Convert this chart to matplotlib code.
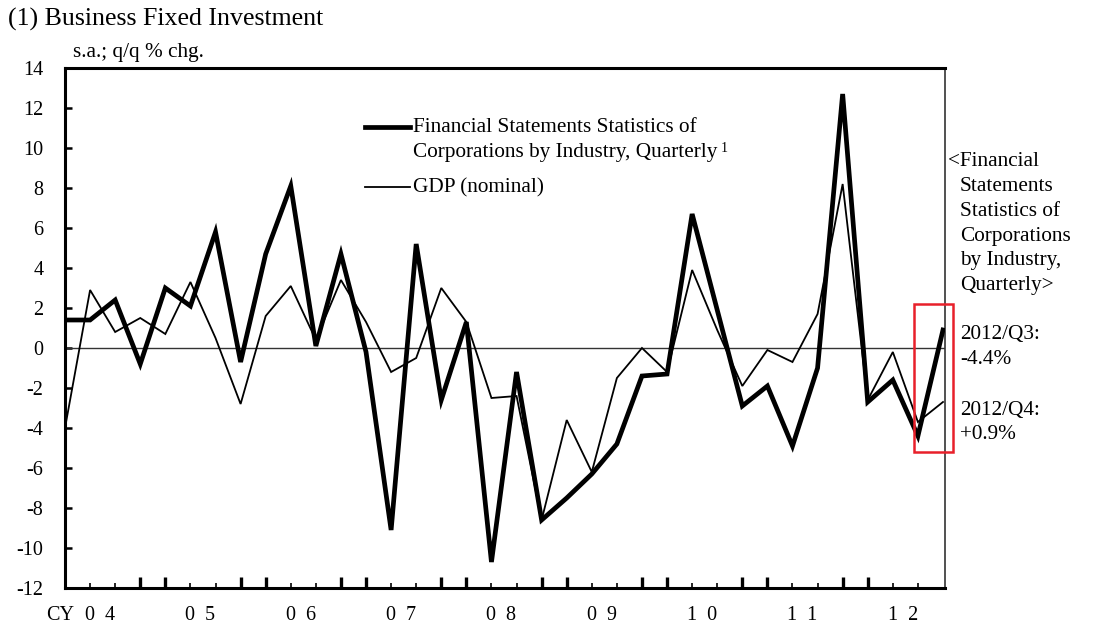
import matplotlib
matplotlib.use("Agg")
import matplotlib.pyplot as plt
from matplotlib.lines import Line2D
from matplotlib.patches import Rectangle

plt.rcParams['font.family'] = ['Liberation Serif', 'DejaVu Serif']

# ---- data ----
quarters = list(range(36))  # CY2004 Q1 ... CY2012 Q4
fssc = [1.4, 1.4, 2.4, -0.8, 3.0, 2.1, 5.8, -0.7, 4.7, 8.1, 0.1, 4.7,
        -0.2, -9.1, 5.2, -2.6, 1.3, -10.7, -1.2, -8.6, -7.5, -6.3, -4.8, -1.4,
        -1.3, 6.7, 1.9, -2.9, -1.9, -4.9, -1.0, 12.7, -2.7, -1.6, -4.4, 0.9]
gdp = [-4.0, 2.9, 0.8, 1.5, 0.7, 3.3, 0.5, -2.8, 1.6, 3.1, 0.4, 3.4,
       1.3, -1.2, -0.5, 3.0, 1.3, -2.5, -2.4, -8.6, -3.6, -6.2, -1.5, 0.0,
       -1.2, 3.9, 0.9, -1.9, -0.1, -0.7, 1.7, 8.2, -2.6, -0.2, -3.7, -2.7]
year_labels = ["0  4", "0  5", "0  6", "0  7", "0  8", "0  9", "1  0", "1  1", "1  2"]
y_ticks = list(range(-12, 15, 2))
fssc_label_1 = "Financial Statements Statistics of"
fssc_label_2 = "Corporations by Industry, Quarterly"
gdp_label = "GDP (nominal)"
side_text = ["<Financial", "Statements", "Statistics of", "Corporations",
             "by Industry,", "Quarterly>"]
side_values = ["2012/Q3:", "-4.4%", "2012/Q4:", "+0.9%"]

FS = 15.3
W, H = 1095, 639
fig = plt.figure(figsize=(W / 100, H / 100), dpi=100)
L, R, T, B = 65, 945, 68, 588
ax = fig.add_axes([L / W, 1 - B / H, (R - L) / W, (B - T) / H])

ax.plot(quarters, gdp, color='black', lw=1.3, solid_joinstyle='miter', zorder=3)
ax.plot(quarters, fssc, color='black', lw=3.4, solid_joinstyle='miter', zorder=4)
ax.axhline(0, color='#333333', lw=1.0, zorder=2)

ax.set_xlim(0, 35.08)
ax.set_ylim(-12, 14)

# spines
for s in ['left', 'bottom', 'top']:
    ax.spines[s].set_linewidth(2.2)
ax.spines['right'].set_linewidth(1.2)
ax.spines['right'].set_color('#333333')

# y ticks
ax.set_yticks(y_ticks)
ax.set_yticklabels([str(v) for v in y_ticks])
ax.tick_params(axis='y', direction='in', length=5, width=1.8, labelsize=14.5, pad=15.5)

# x ticks
major = [i for i in quarters if i % 4 in (0, 3) and 0 < i < 35]
minor = [i for i in quarters if i not in major and 0 < i < 35]
ax.set_xticks(major)
ax.set_xticks(minor, minor=True)
ax.set_xticklabels([])
ax.tick_params(axis='x', which='major', direction='in', length=8, width=2.4)
ax.tick_params(axis='x', which='minor', direction='in', length=3.6, width=1.2)

xt = ax.get_xaxis_transform()
for k, lab in enumerate(year_labels):
    ax.text(4 * k + 1.4, -0.053, lab, transform=xt, ha='center', va='center',
            fontsize=14.5)
ax.text(-0.2, -0.053, "CY", transform=xt, ha='center', va='center', fontsize=14.5)

# unit label & title
ax.text((73 - L) / (R - L), (B - 53) / (B - T), "s.a.; q/q % chg.",
        transform=ax.transAxes, ha='left', va='center', fontsize=FS)
fig.text(8 / W, 1 - 19 / H, "(1) Business Fixed Investment", ha='left', va='center',
         fontsize=18.6)

# manual legend
def axf(px, py):
    return (px - L) / (R - L), (B - py) / (B - T)

x0, y0 = axf(365, 127)
x1, _ = axf(410, 127)
ax.add_line(Line2D([x0, x1], [y0, y0], transform=ax.transAxes, color='black', lw=3.4))
tx, ty1 = axf(413, 128)
ax.text(tx, ty1, fssc_label_1, transform=ax.transAxes, ha='left', va='center', fontsize=FS)
_, y2 = axf(413, 153)
t2 = ax.text(tx, y2, fssc_label_2, transform=ax.transAxes, ha='left', va='center', fontsize=FS)
ax.annotate("1", xy=(1, 0.75), xycoords=t2, xytext=(2.5, 0), textcoords='offset points',
            ha='left', va='center', fontsize=10)
_, y3 = axf(413, 187)
_, ty3 = axf(413, 188)
ax.add_line(Line2D([x0, x1], [y3, y3], transform=ax.transAxes, color='black', lw=1.3))
ax.text(tx, ty3, gdp_label, transform=ax.transAxes, ha='left', va='center', fontsize=FS)

# side annotations
side_y = [162, 186.5, 211, 236.5, 261, 285.5]
for i, (s, py) in enumerate(zip(side_text, side_y)):
    px = 948 if i == 0 else 960
    fig.text(px / W, 1 - py / H, s, ha='left', va='center', fontsize=FS)
for s, py in zip(side_values, [335, 360, 410, 434.5]):
    fig.text(960 / W, 1 - py / H, s, ha='left', va='center', fontsize=FS)

# red highlight box
ax.add_patch(Rectangle((33.84, -5.2), 35.38 - 33.84, 2.2 + 5.2, fill=False,
                       edgecolor='#e8202a', lw=1.8, clip_on=False, zorder=5))

fig.savefig("out.png", dpi=100)
